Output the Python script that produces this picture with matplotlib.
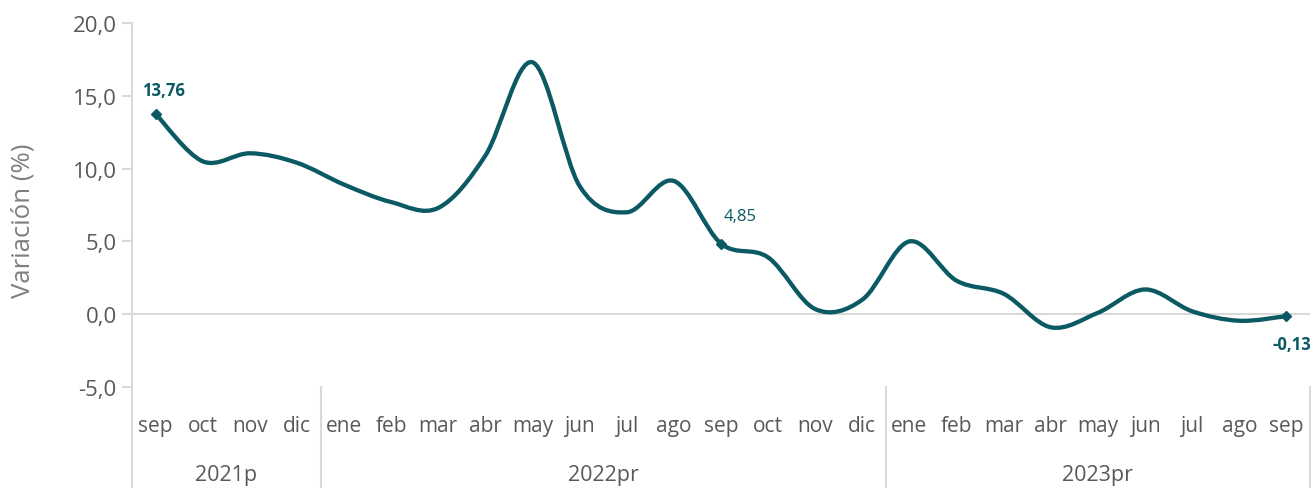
import numpy as np
import matplotlib.pyplot as plt
from matplotlib.path import Path
from matplotlib.patches import PathPatch
from matplotlib.transforms import blended_transform_factory

# ── data ──────────────────────────────────────────────────────────────────────

months = ["sep", "oct", "nov", "dic",
          "ene", "feb", "mar", "abr", "may", "jun", "jul", "ago", "sep", "oct", "nov", "dic",
          "ene", "feb", "mar", "abr", "may", "jun", "jul", "ago", "sep"]
years = ["2021p", "2022pr", "2023pr"]
year_sizes = [4, 12, 9]
values = [13.76, 10.5, 11.05, 10.4,
          8.9, 7.7, 7.3, 10.9, 17.3, 8.8, 7.0, 9.15, 4.85, 3.9, 0.35, 1.0,
          5.0, 2.3, 1.4, -0.9, 0.1, 1.7, 0.2, -0.45, -0.13]
labelled = {0: ("13,76", "bold"), 12: ("4,85", "normal"), 24: ("-0,13", "bold")}

LINE = "#0B5A63"
GREY = "#595959"
AXIS = "#D9D9D9"

plt.rcParams["font.family"] = ["Open Sans", "DejaVu Sans"]

# ── smoothed line (excel style bezier) ───────────────────────────────────────

def smooth_path(x, y):
    pts = np.column_stack([x, y])
    n = len(pts)
    verts = [pts[0]]
    codes = [Path.MOVETO]
    for i in range(n - 1):
        p0 = pts[i - 1] if i > 0 else pts[i]
        p1, p2 = pts[i], pts[i + 1]
        p3 = pts[i + 2] if i + 2 < n else pts[i + 1]
        c1 = p1 + (p2 - p0) / 6
        c2 = p2 - (p3 - p1) / 6
        verts += [c1, c2, p2]
        codes += [Path.CURVE4] * 3
    return Path(verts, codes)

# ── plot ──────────────────────────────────────────────────────────────────────

fig = plt.figure(figsize=(13.15, 4.89), dpi=100)
ax = fig.add_axes([0.1004, 0.2065, 0.8958, 0.7445])

x = np.arange(len(values))
ax.add_patch(PathPatch(smooth_path(x, values), facecolor="none",
                       edgecolor=LINE, lw=3.1, capstyle="round", joinstyle="round"))

idx = list(labelled.keys())
ax.plot(idx, [values[i] for i in idx], "D", color=LINE, ms=5, lw=0)

offsets = {0: (6, 17), 12: (14, 20), 24: (4, -20)}
for i, (txt, w) in labelled.items():
    ax.annotate(txt, (i, values[i]), xytext=offsets[i], textcoords="offset points",
                ha="center", va="center", fontsize=12, fontweight=w, color=LINE)

ax.set_xlim(-0.5, len(values) - 0.5)
ax.set_ylim(-5, 20)
ax.set_yticks(np.arange(-5, 21, 5))
ax.set_yticklabels([f"{v:.1f}".replace(".", ",") for v in np.arange(-5, 21, 5)])
ax.axhline(0, color=AXIS, lw=1.5, zorder=0)

for s in ["top", "right", "bottom"]:
    ax.spines[s].set_visible(False)
ax.spines["left"].set_color(AXIS)
ax.spines["left"].set_linewidth(1.5)
ax.tick_params(axis="y", colors=AXIS, labelcolor=GREY, labelsize=16, length=7, width=1.5, pad=4)
ax.set_xticks([])
ax.set_ylabel("Variación (%)", color="#7F7F7F", fontsize=18.5, va="center")
ax.yaxis.set_label_coords(-0.0925, 0.46)

# category axis: months and years
tr = blended_transform_factory(ax.transData, ax.transAxes)
for i, m in enumerate(months):
    ax.text(i, -0.105, m, transform=tr, ha="center", va="center", fontsize=15, color=GREY)

start = 0
bounds = [-0.5]
for yname, size in zip(years, year_sizes):
    mid = start + (size - 1) / 2
    ax.text(mid, -0.24, yname, transform=tr, ha="center", va="center", fontsize=15.5, color=GREY)
    start += size
    bounds.append(start - 0.5)

for b in bounds:
    ax.plot([b, b], [0, -0.28], transform=tr, color=AXIS, lw=1.5, clip_on=False)

fig.savefig("out.png", dpi=100)
